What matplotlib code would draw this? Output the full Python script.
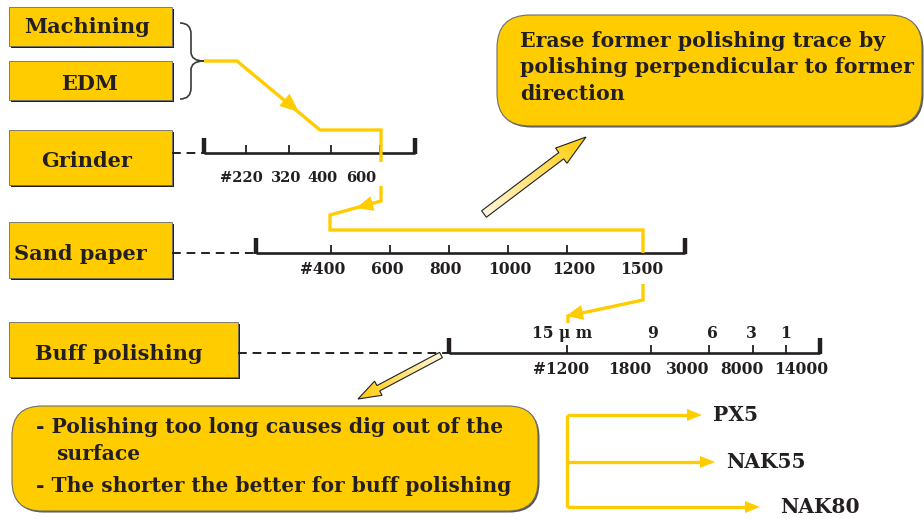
import matplotlib
matplotlib.use("Agg")
import matplotlib.pyplot as plt
from matplotlib.patches import Rectangle, FancyBboxPatch, Polygon, PathPatch
from matplotlib.path import Path
from matplotlib.colors import LinearSegmentedColormap
import numpy as np

# ---------------- content ----------------
stages = ["Machining", "EDM", "Grinder", "Sand paper", "Buff polishing"]
grinder_grits = ["#220", "320", "400", "600"]
sand_grits = ["#400", "600", "800", "1000", "1200", "1500"]
buff_grits = ["#1200", "1800", "3000", "8000", "14000"]
buff_microns = ["15 \u03bc m", "9", "6", "3", "1"]
materials = ["PX5", "NAK55", "NAK80"]
tip_lines = ["Erase former polishing trace by",
             "polishing perpendicular to former",
             "direction"]
note_lines = ["- Polishing too long causes dig out of the",
              "surface",
              "- The shorter the better for buff polishing"]

# ---------------- layout (pixels) ----------------
W, H = 924, 519
stage_boxes = [(9, 7, 172, 46), (9, 61, 172, 100), (9, 130, 172, 185),
               (9, 222, 172, 278), (9, 322, 238, 377)]
stage_text_x = [87, 90, 87, 80, 119]
stage_text_y = [27, 84, 161, 254, 354]

grinder_scale = dict(x0=204, x1=415, y=153, ticks=[246, 289, 331, 380])
grinder_lab_x = [241, 286, 322, 361]
grinder_lab_y = 178

sand_scale = dict(x0=256, x1=685, y=253, ticks=[331, 390, 449, 508, 567, 643])
sand_lab_x = [323, 387, 446, 510, 574, 642]
sand_lab_y = 269

buff_scale = dict(x0=449, x1=820, y=353, ticks=[567, 651, 709, 753, 786])
buff_top_x = [562, 653, 712, 751, 786]
buff_top_y = 333
buff_bot_x = [561, 630, 688, 742, 801]
buff_bot_y = 370

YEL = '#FFCC00'
INK = '#231F20'
FONT = ['DejaVu Serif']

fig = plt.figure(figsize=(W / 100, H / 100), dpi=100)
ax = fig.add_axes([0, 0, 1, 1])
ax.set_xlim(0, W)
ax.set_ylim(H, 0)
ax.axis('off')


def txt(x, y, s, size, ha='center', va='center'):
    ax.text(x, y, s, fontsize=size, fontweight='bold', family=FONT, color=INK,
            ha=ha, va=va, zorder=10)


def stage_box(x0, y0, x1, y1):
    ax.add_patch(Rectangle((x0 + 2, y0 + 2), x1 - x0, y1 - y0, fc=INK, ec='none', zorder=2))
    ax.add_patch(Rectangle((x0, y0), x1 - x0, y1 - y0, fc=YEL, ec='#6d6d6d', lw=0.6, zorder=3))


def scale(x0, x1, y, ticks):
    ax.plot([x0, x1], [y, y], color=INK, lw=1.9, solid_capstyle='butt', zorder=4)
    for xe in (x0, x1):
        ax.plot([xe, xe], [y + 1, y - 15], color=INK, lw=3.2, solid_capstyle='butt', zorder=4)
    for t in ticks:
        ax.plot([t, t], [y, y - 8], color=INK, lw=1.3, solid_capstyle='butt', zorder=4)


def dashed(x0, x1, y):
    ax.plot([x0, x1], [y, y], color=INK, lw=1.4, dashes=(4.5, 3), zorder=4)


def head(tip, direction, length, width, color=YEL, z=6):
    d = np.array(direction, float)
    d = d / np.hypot(*d)
    n = np.array([-d[1], d[0]])
    tip = np.array(tip, float)
    base = tip - d * length
    pts = [tip, base + n * width / 2, base - n * width / 2]
    ax.add_patch(Polygon(pts, closed=True, fc=color, ec='none', zorder=z))


def path_line(pts, lw=2.4):
    xs, ys = zip(*pts)
    ax.plot(xs, ys, color=YEL, lw=lw, solid_joinstyle='miter', solid_capstyle='butt', zorder=5)


def block_arrow(tail, tip, shaft_w, head_w, head_len, c0, c1):
    tail = np.array(tail, float)
    tip = np.array(tip, float)
    d = tip - tail
    L = np.hypot(*d)
    d = d / L
    n = np.array([-d[1], d[0]])
    base = tip - d * head_len
    pts = [tail + n * shaft_w / 2, base + n * shaft_w / 2, base + n * head_w / 2, tip,
           base - n * head_w / 2, base - n * shaft_w / 2, tail - n * shaft_w / 2]
    poly = Polygon(pts, closed=True, fc='none', ec=INK, lw=0.8, zorder=7)
    ax.add_patch(poly)
    P = np.array(pts)
    xmin, ymin = P.min(0) - 2
    xmax, ymax = P.max(0) + 2
    xs = np.linspace(xmin, xmax, 200)
    ys = np.linspace(ymin, ymax, 200)
    X, Y = np.meshgrid(xs, ys)
    proj = ((X - tail[0]) * d[0] + (Y - tail[1]) * d[1]) / L
    cmap = LinearSegmentedColormap.from_list('g', [c0, c1])
    im = ax.imshow(np.clip(proj, 0, 1), extent=(xmin, xmax, ymin, ymax), origin='lower',
                   cmap=cmap, vmin=0, vmax=1, aspect='auto', zorder=6, interpolation='bilinear')
    im.set_clip_path(poly)


# ---------------- stage boxes ----------------
for (x0, y0, x1, y1), name, tx, ty in zip(stage_boxes, stages, stage_text_x, stage_text_y):
    stage_box(x0, y0, x1, y1)
    txt(tx, ty, name, 15)

# brace
verts = [(180, 23), (191, 23), (191, 34), (191, 52), (191, 61), (204, 61),
         (191, 61), (191, 70), (191, 88), (191, 99), (180, 99)]
codes = [Path.MOVETO, Path.CURVE3, Path.CURVE3, Path.LINETO, Path.CURVE3, Path.CURVE3,
         Path.CURVE3, Path.CURVE3, Path.LINETO, Path.CURVE3, Path.CURVE3]
ax.add_patch(PathPatch(Path(verts, codes), fc='none', ec='#3a3a3a', lw=1.2, zorder=4))

# scales
dashed(172, 204, 153)
scale(**grinder_scale)
for x, s in zip(grinder_lab_x, grinder_grits):
    txt(x, grinder_lab_y, s, 10.5)

dashed(172, 256, 253)
scale(**sand_scale)
for x, s in zip(sand_lab_x, sand_grits):
    txt(x, sand_lab_y, s, 11.2)

dashed(238, 449, 353)
scale(**buff_scale)
for x, s in zip(buff_top_x, buff_microns):
    txt(x, buff_top_y, s, 11.2)
for x, s in zip(buff_bot_x, buff_grits):
    txt(x, buff_bot_y, s, 11.2)

# ---------------- orange flow ----------------
path_line([(204, 61), (237, 61), (320, 130), (381, 130), (381, 162)])
head((299, 112), (83, 69), 19, 16)
path_line([(381, 186), (381, 201), (330, 215), (330, 230), (643, 230), (643, 253)])
head((356, 208), (-51, 14), 17, 15)
path_line([(643, 284), (643, 300), (568, 316), (568, 323)])
head((566, 316), (-75, 16), 17, 15)

# ---------------- big arrows ----------------
block_arrow((484, 214), (586, 137), 8, 19, 31, '#FFF6DC', '#FFCC00')
block_arrow((441, 355), (358, 399), 6, 16, 23, '#FFF6DC', '#FFCC00')

# ---------------- rounded boxes ----------------
def rbox(x0, y0, x1, y1, r):
    ax.add_patch(FancyBboxPatch((x0 + 1.5, y0 + 1.5), x1 - x0, y1 - y0,
                                boxstyle=f'round,pad=0,rounding_size={r}',
                                fc='#555555', ec='none', zorder=2))
    ax.add_patch(FancyBboxPatch((x0, y0), x1 - x0, y1 - y0,
                                boxstyle=f'round,pad=0,rounding_size={r}',
                                fc=YEL, ec='#6d6d6d', lw=0.8, zorder=3))


rbox(497, 15, 922, 126, 33)
for y, s in zip([41, 67, 94], tip_lines):
    txt(520, y, s, 14.8, ha='left')

rbox(12, 406, 538, 511, 30)
for x, y, s in zip([36, 56, 36], [427, 454, 486], note_lines):
    txt(x, y, s, 14.6, ha='left')

# ---------------- material tree ----------------
tree_x = 567
tree_y = [415, 462, 507]
tree_end = [702, 715, 760]
text_x = [713, 726, 780]
ax.plot([tree_x, tree_x], [tree_y[0], tree_y[-1]], color=YEL, lw=2.4, solid_capstyle='butt', zorder=5)
for y, xe, tx, m in zip(tree_y, tree_end, text_x, materials):
    ax.plot([tree_x, xe - 12], [y, y], color=YEL, lw=2.4, solid_capstyle='butt', zorder=5)
    head((xe, y), (1, 0), 15, 12)
    txt(tx, y, m, 14.5, ha='left')

fig.savefig('out.png', dpi=100)
